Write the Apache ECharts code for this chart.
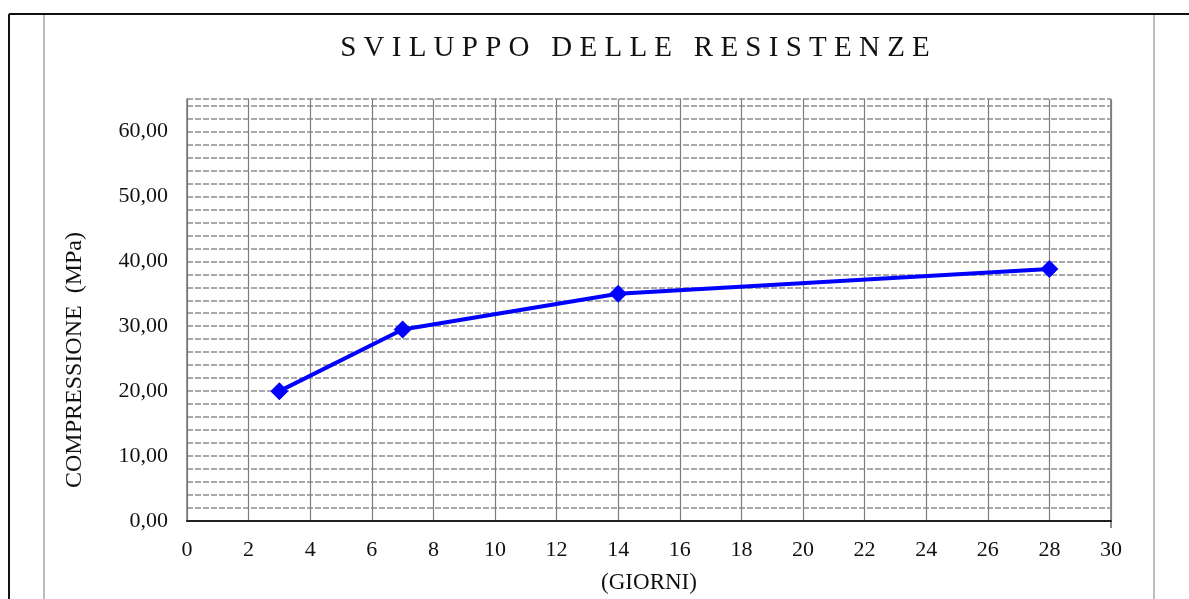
<!DOCTYPE html>
<html>
<head>
<meta charset="utf-8">
<script src="https://cdn.jsdelivr.net/npm/echarts@6/dist/echarts.min.js"></script>
<style>
  html, body { margin: 0; padding: 0; background: #fff; }
  #chart { width: 1189px; height: 599px; }
</style>
</head>
<body>
<div id="chart"></div>
<script>
const days = [3, 7, 14, 28]
const strength = [20.0, 29.5, 35.0, 38.8]

const titleText = 'SVILUPPO DELLE RESISTENZE'
const yName = 'COMPRESSIONE  (MPa)'
const xName = '(GIORNI)'

const serif = '"Liberation Serif", "Times New Roman", serif'
// spread the title letters like the original
const spaced = titleText.split(' ').map(w => w.split('').join(' ')).join('   ')

const chart = echarts.init(document.getElementById('chart'))

chart.setOption({
  animation: false,
  title: {
    text: spaced,
    left: 630,
    top: 29,
    textAlign: 'center',
    textStyle: { fontFamily: serif, fontWeight: 'normal', fontSize: 29, color: '#111' }
  },
  grid: { left: 187, right: 78, top: 99, bottom: 71 },
  xAxis: {
    type: 'value',
    min: 0,
    max: 30,
    interval: 2,
    name: xName,
    nameLocation: 'middle',
    nameGap: 50,
    nameTextStyle: { fontFamily: serif, fontSize: 23, color: '#111' },
    axisLine: { show: true, lineStyle: { color: '#222', width: 2 } },
    axisTick: { show: false },
    axisLabel: { fontFamily: serif, fontSize: 22, color: '#111', margin: 18 },
    splitLine: { show: true, lineStyle: { color: '#7d7d7d', width: 1.2 } }
  },
  yAxis: {
    type: 'value',
    min: 0,
    max: 65,
    interval: 2,
    axisLine: { show: true, lineStyle: { color: '#777', width: 1.5 } },
    axisTick: { show: false },
    axisLabel: {
      fontFamily: serif,
      fontSize: 22,
      color: '#111',
      margin: 19,
      formatter: v => (v % 10 === 0 ? v.toFixed(2).replace('.', ',') : '')
    },
    splitLine: { show: true, lineStyle: { color: '#8f8f8f', width: 1.5, type: [6, 2] } }
  },
  graphic: [
    { type: 'line', shape: { x1: 9, y1: 14, x2: 1189, y2: 14 }, style: { stroke: '#111', lineWidth: 2 } },
    { type: 'line', shape: { x1: 9, y1: 14, x2: 9, y2: 599 }, style: { stroke: '#111', lineWidth: 2 } },
    { type: 'line', shape: { x1: 44, y1: 15, x2: 44, y2: 599 }, style: { stroke: '#bdbdbd', lineWidth: 2 } },
    { type: 'line', shape: { x1: 1154, y1: 15, x2: 1154, y2: 599 }, style: { stroke: '#bdbdbd', lineWidth: 2 } },
    { type: 'line', shape: { x1: 1111, y1: 99, x2: 1111, y2: 528 }, style: { stroke: '#666', lineWidth: 1.5 } },
    {
      type: 'text',
      x: 75,
      y: 360,
      rotation: Math.PI / 2,
      style: {
        text: yName,
        font: '24px ' + serif,
        fill: '#111',
        align: 'center',
        verticalAlign: 'middle'
      }
    }
  ],
  series: [{
    type: 'line',
    data: days.map((d, i) => [d, strength[i]]),
    symbol: 'diamond',
    symbolSize: 18,
    lineStyle: { color: '#0000ff', width: 4 },
    itemStyle: { color: '#0000ff' }
  }]
})
</script>
</body>
</html>
